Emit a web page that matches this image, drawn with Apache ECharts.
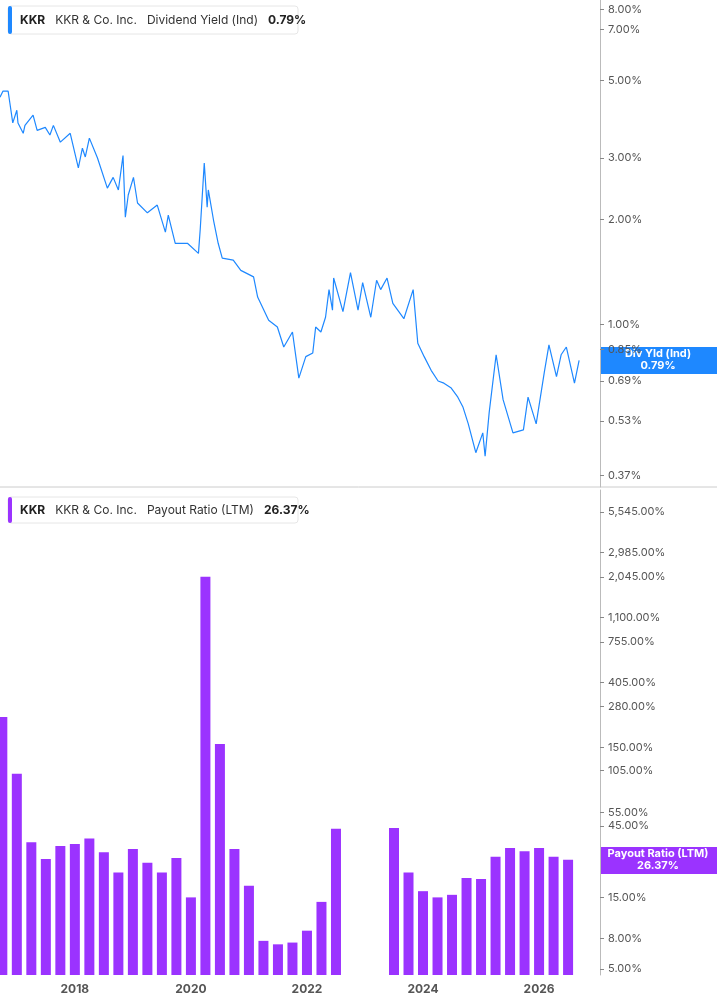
<!DOCTYPE html>
<html><head><meta charset="utf-8">
<script src="https://cdn.jsdelivr.net/npm/echarts@6/dist/echarts.min.js"></script>
<style>html,body{margin:0;padding:0;background:#fff}#c{width:717px;height:1005px}</style>
</head><body><div id="c"></div>
<script>
// Dividend yield (%) by decimal year
const yieldYears=[2016.71,2016.76,2016.85,2016.88,2016.93,2017.00,2017.02,2017.11,2017.14,2017.28,2017.35,2017.49,2017.57,2017.63,2017.75,2017.92,2018.06,2018.13,2018.18,2018.25,2018.39,2018.56,2018.66,2018.75,2018.83,2018.87,2018.92,2019.01,2019.08,2019.25,2019.42,2019.56,2019.61,2019.73,2019.94,2020.13,2020.16,2020.23,2020.28,2020.30,2020.39,2020.47,2020.54,2020.73,2020.86,2021.08,2021.15,2021.34,2021.49,2021.60,2021.75,2021.86,2021.98,2022.10,2022.15,2022.24,2022.32,2022.38,2022.44,2022.46,2022.62,2022.75,2022.88,2022.96,2023.10,2023.20,2023.27,2023.38,2023.48,2023.67,2023.83,2023.91,2024.02,2024.14,2024.26,2024.36,2024.48,2024.60,2024.69,2024.78,2024.91,2025.03,2025.07,2025.14,2025.26,2025.38,2025.55,2025.73,2025.81,2025.95,2026.09,2026.17,2026.30,2026.38,2026.47,2026.61,2026.69];
const yieldValues=[4.48,4.66,4.66,4.31,3.78,4.11,3.78,3.53,3.72,3.98,3.60,3.67,3.49,3.72,3.33,3.53,2.81,3.20,3.02,3.42,3.00,2.46,2.64,2.43,3.05,2.03,2.35,2.64,2.23,2.09,2.20,1.84,2.06,1.71,1.71,1.60,1.87,2.90,2.17,2.43,1.99,1.71,1.55,1.53,1.43,1.37,1.20,1.03,0.985,0.863,0.953,0.703,0.81,0.83,0.985,0.953,1.05,1.26,1.10,1.36,1.09,1.41,1.10,1.32,1.05,1.34,1.26,1.36,1.15,1.04,1.26,0.885,0.81,0.74,0.69,0.68,0.66,0.62,0.58,0.52,0.43,0.49,0.42,0.56,0.82,0.61,0.49,0.50,0.62,0.52,0.73,0.875,0.71,0.82,0.863,0.68,0.79];
// Payout ratio (%) quarterly; null = no data
const payoutYears=[];for(let i=0;i<40;i++)payoutYears.push(2016.75+0.25*i);
const payoutValues=[239,100,35,27,33,34,37,30,22,31.5,25.5,22,27.5,15,2050,158,31.5,17.9,7.7,7.3,7.5,9,14,43,null,null,null,43.5,22,16.5,15,15.6,20.2,19.9,28,32,30.5,32,28,26.7];
const topTicks=[8,7,5,3,2,1,0.85,0.69,0.53,0.37,0.35];
const botTicks=[5545,2985,2045,1100,755,405,280,150,105,55,45,15,8,5];
const yearTicks=[2018,2020,2022,2024,2026];

const L=Math.log10;
const fmt=v=>{const p=Math.pow(10,v);return p.toLocaleString('en-US',{minimumFractionDigits:2,maximumFractionDigits:2})+'%';};
const chart=echarts.init(document.getElementById('c'));
const xMin=2016.71,xMax=2027.05;
const lab={color:'#555',fontSize:11,fontFamily:'Inter'};
chart.setOption({
  animation:false,
  grid:[{left:0,right:117,top:0,height:487},{left:0,right:117,top:490,height:485}],
  xAxis:[
    {gridIndex:0,type:'value',min:xMin,max:xMax,show:false},
    {gridIndex:1,type:'value',min:xMin,max:xMax,splitLine:{show:false},axisLine:{show:false},axisTick:{show:false},
     axisLabel:{customValues:yearTicks,color:'#555',fontSize:12,fontWeight:'bold',fontFamily:'Inter',formatter:v=>String(Math.round(v))}}
  ],
  yAxis:[
    {gridIndex:0,type:'value',position:'right',min:L(0.343),max:L(8.5),splitLine:{show:false},
     axisLine:{show:true,lineStyle:{color:'#bbb'}},axisTick:{show:true,customValues:topTicks.map(L),lineStyle:{color:'#888'},length:4},
     axisLabel:{customValues:topTicks.map(L),formatter:fmt,...lab,margin:8}},
    {gridIndex:1,type:'value',position:'right',min:L(4.56),max:L(7770),splitLine:{show:false},
     axisLine:{show:true,lineStyle:{color:'#bbb'}},axisTick:{show:true,customValues:botTicks.map(L),lineStyle:{color:'#888'},length:4},
     axisLabel:{customValues:botTicks.map(L),formatter:fmt,...lab,margin:8}}
  ],
  series:[
    {type:'line',xAxisIndex:0,yAxisIndex:0,symbol:'none',lineStyle:{color:'#1e88ff',width:1.2},
     data:yieldYears.map((x,i)=>[x,L(yieldValues[i])])},
    {type:'bar',xAxisIndex:1,yAxisIndex:1,barWidth:10,itemStyle:{color:'#9b33ff'},
     data:payoutYears.map((x,i)=>[x,payoutValues[i]==null?null:L(payoutValues[i])])}
  ],
  graphic:[
    {type:'line',shape:{x1:0,y1:487,x2:717,y2:487},style:{stroke:'#ccc',lineWidth:1}},
    {type:'rect',shape:{x:8,y:6,width:290,height:28,r:3},style:{fill:'#fff',stroke:'#e6e6e6'}},
    {type:'rect',shape:{x:8,y:6,width:4,height:28,r:2},style:{fill:'#1e88ff'}},
    {type:'text',x:20,y:20,style:{text:'{b|KKR}   {n|KKR & Co. Inc.}   {n|Dividend Yield (Ind)}   {b|0.79%}',verticalAlign:'middle',
      rich:{b:{fontWeight:'bold',fontSize:12,fill:'#222',fontFamily:'Inter'},n:{fontSize:12,fill:'#333',fontFamily:'Inter'}}}},
    {type:'rect',shape:{x:8,y:497,width:290,height:26,r:3},style:{fill:'#fff',stroke:'#e6e6e6'}},
    {type:'rect',shape:{x:8,y:497,width:4,height:26,r:2},style:{fill:'#9b33ff'}},
    {type:'text',x:20,y:510,style:{text:'{b|KKR}   {n|KKR & Co. Inc.}   {n|Payout Ratio (LTM)}   {b|26.37%}',verticalAlign:'middle',
      rich:{b:{fontWeight:'bold',fontSize:12,fill:'#222',fontFamily:'Inter'},n:{fontSize:12,fill:'#333',fontFamily:'Inter'}}}},
    {type:'rect',shape:{x:600,y:347,width:117,height:27},style:{fill:'#1e88ff'}},
    {type:'text',x:658,y:360,style:{text:'Div Yld (Ind)\n0.79%',align:'center',verticalAlign:'middle',fill:'#fff',fontSize:11,fontWeight:'bold',fontFamily:'Inter',lineHeight:12}},
    {type:'rect',shape:{x:600,y:847,width:117,height:27},style:{fill:'#9b33ff'}},
    {type:'text',x:658,y:860,style:{text:'Payout Ratio (LTM)\n26.37%',align:'center',verticalAlign:'middle',fill:'#fff',fontSize:11,fontWeight:'bold',fontFamily:'Inter',lineHeight:12}}
  ]
});
</script></body></html>
